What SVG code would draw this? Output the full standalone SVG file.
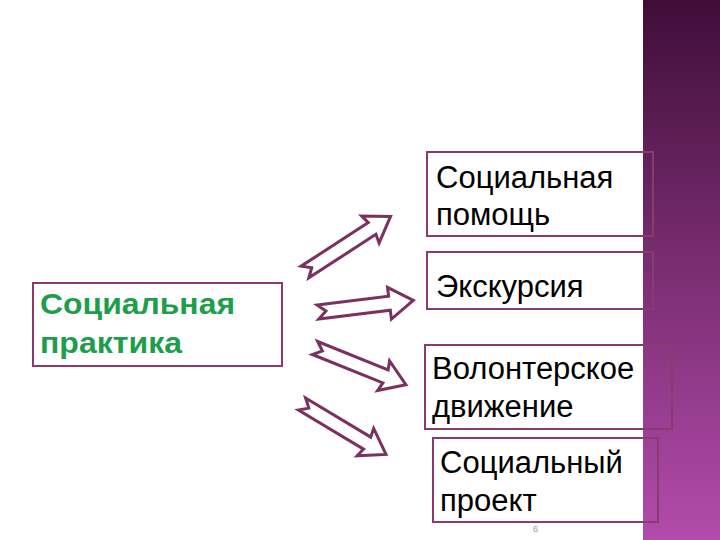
<svg xmlns="http://www.w3.org/2000/svg" width="720" height="540" viewBox="0 0 720 540">
<defs>
<linearGradient id="band" x1="0" y1="0" x2="0" y2="1">
<stop offset="0" stop-color="#3f0d38"/><stop offset="0.5" stop-color="#7a2e72"/><stop offset="1" stop-color="#b24bab"/>
</linearGradient>
<style>
.box{fill:none;stroke:#8a3a6e;stroke-width:2}
.t{font-family:"Liberation Sans",Arial,sans-serif;font-size:31px;fill:#000}
.g{font-family:"Liberation Sans",Arial,sans-serif;font-size:30px;font-weight:bold;fill:#1e9e4a}
.arr{fill:#fff;stroke:#7b3060;stroke-width:3;stroke-linejoin:miter}
</style>
</defs>
<rect width="720" height="540" fill="#fff"/>
<rect x="643" y="0" width="77" height="540" fill="url(#band)"/>
<g id="left"><rect class="box" x="33" y="283" width="249" height="83"/>
<text class="g" x="40" y="314" textLength="195" lengthAdjust="spacingAndGlyphs">Социальная</text><text class="g" x="40" y="353" textLength="142" lengthAdjust="spacingAndGlyphs">практика</text></g>
<g id="n1"><rect class="box" x="427" y="152" width="226" height="84"/>
<text class="t" x="436" y="188">Социальная</text><text class="t" x="436" y="225">помощь</text></g>
<g id="n2"><rect class="box" x="427" y="252" width="226" height="57"/>
<text class="t" x="436" y="297">Экскурсия</text></g>
<g id="n3"><rect class="box" x="425" y="345" width="247" height="84"/>
<text class="t" x="432" y="379">Волонтерское</text><text class="t" x="432" y="417">движение</text></g>
<g id="n4"><rect class="box" x="433" y="438" width="225" height="84"/>
<text class="t" x="440" y="473">Социальный</text><text class="t" x="440" y="511">проект</text></g>
<text x="533" y="532" font-family="Liberation Sans,sans-serif" font-size="9" fill="#999">6</text>
<g id="connectors">
<polygon class="arr" transform="translate(305,272) rotate(-33)" points="0,-7 80,-7 78,-16 102,0 78,16 80,7 0,7 8,0"/>
<polygon class="arr" transform="translate(318,312) rotate(-7)" points="0,-7 72,-7 72,-16 96,0 72,16 72,7 0,7 8,0"/>
<polygon class="arr" transform="translate(315,348) rotate(22)" points="0,-7 76,-7 74,-16 98,0 74,16 76,7 0,7 8,0"/>
<polygon class="arr" transform="translate(302,404) rotate(31)" points="0,-7 76,-7 74,-16 98,0 74,16 76,7 0,7 8,0"/>
</g>
</svg>
